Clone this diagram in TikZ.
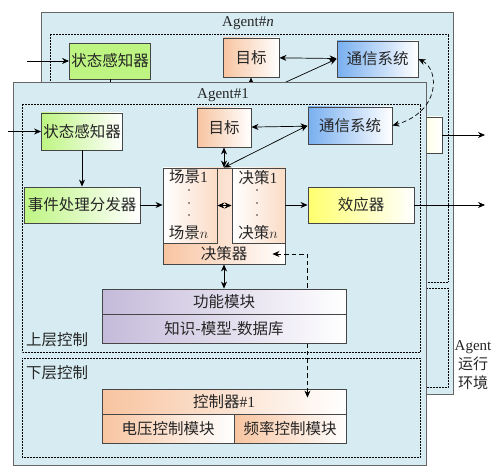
\documentclass[tikz,border=0pt]{standalone}
\usepackage{fontspec}
\setmainfont{Liberation Serif}
\newfontfamily\cjk{Noto Sans CJK SC}
\usetikzlibrary{arrows.meta}

\definecolor{envblue}{RGB}{214,236,242}
\definecolor{boxline}{RGB}{70,70,70}
\definecolor{sensgreen}{RGB}{190,245,130}
\definecolor{peach}{RGB}{248,196,160}
\definecolor{commblue}{RGB}{120,175,240}
\definecolor{actyellow}{RGB}{255,255,110}
\definecolor{lavender}{RGB}{196,186,218}

\begin{document}
\begin{tikzpicture}[x=1pt,y=-1pt,>={Stealth[length=7pt,width=6pt]}]
		\tikzstyle{agent}=[draw=black!60,fill=envblue,line width=0.8pt]
		\tikzstyle{layer}=[draw=black,densely dotted,line width=0.5pt]
		\tikzstyle{block}=[draw=boxline,line width=0.9pt,inner sep=1pt,text=black!85,font=\cjk\fontsize{15.5}{17}\selectfont]
		\tikzstyle{sensor}=[block,left color=sensgreen,right color=white]
		\tikzstyle{target}=[block,left color=peach,right color=white]
		\tikzstyle{comm}=[block,left color=commblue,right color=white]
		\tikzstyle{actor}=[block,left color=actyellow,right color=white]
		\tikzstyle{module}=[block,left color=lavender,right color=white]
		\tikzstyle{plain}=[inner sep=1pt,text=black!85,font=\cjk\fontsize{15.5}{17}\selectfont]
		\tikzstyle{latin}=[inner sep=1pt,text=black!85,font=\fontsize{15}{19}\selectfont]
		\tikzstyle{link}=[line width=0.7pt,black]
		\tikzstyle{dashlink}=[link,dash pattern=on 4.5pt off 3pt]
		
		\useasboundingbox (0,0) rectangle (500,473);
		
		% Agent#n (behind)
		\draw[agent] (41,12) rectangle (453,394);
		\node[latin] (tn) at (248,23) {Agent\#\textit{n}};
		\draw[layer] (50,34) rectangle (448,282);
		\draw[layer] (50,288) rectangle (448,387);
		\node[block,fill=sensgreen,minimum width=81pt,minimum height=36pt] (sn) at (110,61) {状态感知器};
		\node[target,minimum width=56pt,minimum height=39pt] (gn) at (251,57.5) {目标};
		\node[comm,minimum width=81pt,minimum height=36pt] (cn) at (377.5,59) {通信系统};
		\node[actor,minimum width=106pt,minimum height=36pt] (en) at (389,135) {};
		\coordinate (inn) at (27,61);
		\coordinate (dn) at (110,117);
		\coordinate (mn) at (251,98);
		\coordinate (outn) at (485,135);
		\draw[link,->] (inn) -- (sn);
		\draw[link,->] (sn) -- (dn);
		\draw[link,<->] (gn) -- (mn);
		\draw[link,<->] (gn) -- (cn);
		\draw[link,<->] (mn) -- (cn.west);
		\draw[link,->] (en) -- (outn);
		
		% Agent#1 (front)
		\draw[agent] (13,82) rectangle (426,465);
		\node[latin] (t1) at (223,95) {Agent\#1};
		\draw[layer] (22,104) rectangle (420,352);
		\draw[layer] (22,358) rectangle (420,457);
		\node[plain,anchor=west] (up1) at (25,340) {上层控制};
		\node[plain,anchor=west] (lo1) at (25,373) {下层控制};
		
		\node[sensor,minimum width=81pt,minimum height=37pt] (s1) at (82,131.5) {状态感知器};
		\node[sensor,minimum width=116pt,minimum height=36pt] (d1) at (82,205) {事件处理分发器};
		\node[target,minimum width=54pt,minimum height=39pt] (g1) at (224,127.5) {目标};
		\node[comm,minimum width=84pt,minimum height=37pt] (c1) at (350,125.5) {通信系统};
		\node[actor,minimum width=106pt,minimum height=36pt] (e1) at (361,205) {效应器};
		
		\node[target,minimum width=122pt,minimum height=96pt] (m1) at (224,216) {};
		\node[block,left color=white,right color=peach!60,minimum width=54pt,minimum height=75pt] (sc1) at (190,205.5) {};
		\node[block,left color=white,right color=peach!60,minimum width=53pt,minimum height=75pt] (dc1) at (258.5,205.5) {};
		\node[plain] (sa1) at (188.5,177) {场景{\rmfamily 1}};
		\node[plain] (sb1) at (188.5,233) {场景$n$};
		\node[plain] (da1) at (258,178) {决策{\rmfamily 1}};
		\node[plain] (db1) at (258,233) {决策$n$};
		\node[plain] (jc1) at (224,254) {决策器};
		\foreach \y in {190,203,215} {
			\fill[black!80] (189,\y) circle (0.8);
			\fill[black!80] (257,\y) circle (0.8);
		}
		
		\node[target,minimum width=244pt,minimum height=25pt] (r1) at (224,401.5) {控制器{\rmfamily\#1}};
		\node[target,minimum width=132pt,minimum height=29pt] (v1) at (168,428.5) {电压控制模块};
		\node[target,minimum width=112pt,minimum height=29pt] (q1) at (290,428.5) {频率控制模块};
		\draw[dashlink,<->] ([xshift=-13pt]m1.south east |- jc1) -| ([xshift=-39pt,yshift=-9pt]r1.north east);
		\node[module,minimum width=244pt,minimum height=25pt] (f1) at (224,301.5) {功能模块};
		\node[module,minimum width=244pt,minimum height=29pt] (k1) at (224,328.5) {知识-模型-数据库};
		
		\coordinate (in1) at (8,131.5);
		\coordinate (out1) at (485,205);
		\draw[link,->] (in1) -- (s1);
		\draw[link,->] (s1) -- (d1);
		\draw[link,->] (d1.east) -- (d1.east -| m1.west);
		\draw[link,<->] (g1) -- (m1);
		\draw[link,<->] (g1) -- (c1);
		\draw[link,<->] (m1.north) -- (c1.west);
		\draw[link,<->] (sc1) -- (dc1);
		\draw[link,->] (e1 -| m1.east) -- (e1);
		\draw[link,->] (e1) -- (out1);
		\draw[link,<->] (m1) -- (f1);
		
		% environment
		\node[latin,align=center] (env) at (473,365) {Agent\\{\cjk 运行}\\{\cjk 环境}};
		\draw[dashlink,<->] (cn.east) .. controls (440,70) and (440,112) .. (c1.east);
		\end{tikzpicture}
\end{document}
